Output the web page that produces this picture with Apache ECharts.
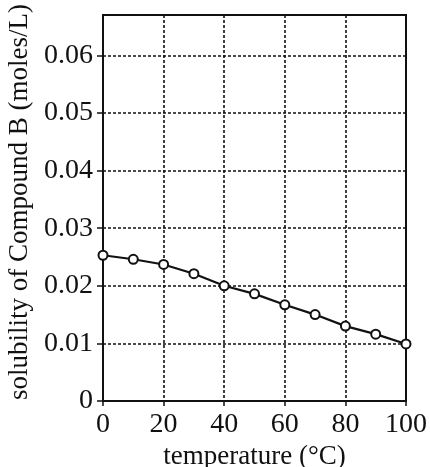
<!DOCTYPE html>
<html>
<head>
<meta charset="utf-8">
<script src="https://cdn.jsdelivr.net/npm/echarts@6/dist/echarts.min.js"></script>
<style>
    html, body { margin: 0; padding: 0; background: #fff; }
    #solubility_chart { width: 430px; height: 467px; }
</style>
</head>
<body>
<div id="solubility_chart"></div>
<script>

// Chart data
// ------------------------------

var temperatures = [0, 10, 20, 30, 40, 50, 60, 70, 80, 90, 100];
var solubility = [0.0253, 0.0246, 0.0237, 0.0221, 0.0200, 0.0186, 0.0167, 0.0150, 0.0130, 0.0116, 0.0099];
var xTicks = [0, 20, 40, 60, 80, 100];
var yTicks = [0, 0.01, 0.02, 0.03, 0.04, 0.05, 0.06];


// Setup chart
// ------------------------------

var chart_element = document.getElementById('solubility_chart');
var chart = echarts.init(chart_element);

var serifFont = '"Liberation Serif", "DejaVu Serif", serif';

// Dotted grid style
var dottedGrid = {
    show: true,
    lineStyle: {
        color: '#111',
        width: 1.6,
        type: [3, 2]
    }
};

chart.setOption({

    animation: false,

    textStyle: {
        fontFamily: serifFont,
        color: '#111'
    },

    // Plot area with solid border (fixed position, labels may sit outside)
    grid: {
        left: 103,
        right: 24,
        top: 15,
        bottom: 66,
        outerBoundsMode: 'none',
        containLabel: false,
        show: true,
        borderColor: '#111',
        borderWidth: 2
    },

    // Horizontal axis
    xAxis: {
        type: 'value',
        min: xTicks[0],
        max: xTicks[xTicks.length - 1],
        interval: xTicks[1] - xTicks[0],
        name: 'temperature (°C)',
        nameLocation: 'middle',
        nameGap: 34,
        nameTextStyle: {
            fontFamily: serifFont,
            fontSize: 27,
            color: '#111'
        },
        axisLine: {
            lineStyle: { color: '#111', width: 2 }
        },
        axisTick: {
            show: true,
            length: 5,
            lineStyle: { color: '#111', width: 1.5 }
        },
        axisLabel: {
            fontFamily: serifFont,
            fontSize: 28,
            color: '#111',
            margin: 10
        },
        splitLine: dottedGrid
    },

    // Vertical axis
    yAxis: {
        type: 'value',
        min: yTicks[0],
        max: 0.067,
        interval: yTicks[1] - yTicks[0],
        name: 'solubility of Compound B (moles/L)',
        nameLocation: 'middle',
        nameGap: 56,
        nameTextStyle: {
            fontFamily: serifFont,
            fontSize: 27,
            color: '#111',
            padding: [0, 0, 0, 12]
        },
        axisLine: {
            show: true,
            lineStyle: { color: '#111', width: 2 }
        },
        axisTick: {
            show: true,
            length: 6,
            lineStyle: { color: '#111', width: 1.5 }
        },
        axisLabel: {
            fontFamily: serifFont,
            fontSize: 28,
            color: '#111',
            margin: 10,
            showMaxLabel: false,
            formatter: function(value) {
                return value === 0 ? '0' : value.toFixed(2);
            }
        },
        splitLine: dottedGrid
    },

    // Data line
    series: [{
        type: 'line',
        data: temperatures.map(function(t, i) {
            return [t, solubility[i]];
        }),
        symbol: 'circle',
        symbolSize: 9,
        lineStyle: { color: '#111', width: 2.2 },
        itemStyle: {
            color: '#fff',
            borderColor: '#111',
            borderWidth: 2
        },
        z: 5
    }]
});

</script>
</body>
</html>
